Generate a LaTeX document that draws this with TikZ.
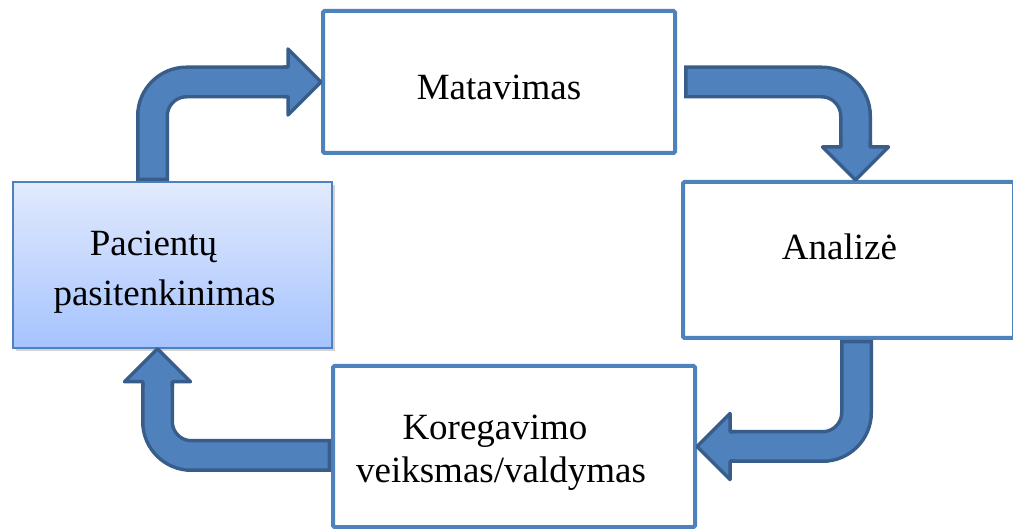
\documentclass[tikz,border=0pt]{standalone}
\usepackage{fontspec}
\setmainfont{Liberation Serif}
\usetikzlibrary{positioning, shadows}

\definecolor{boxblue}{HTML}{4F81BD}
\definecolor{arrowblue}{HTML}{4F81BD}
\definecolor{arrowedge}{HTML}{385D8A}
\definecolor{pactop}{HTML}{E2EAFD}
\definecolor{pacbottom}{HTML}{A5C3FE}

\newcommand{\bendshaft}[1]{%
	\draw[shaft out] #1;
	\draw[shaft in] #1;}
\newcommand{\bendhead}[2]{%
	\begin{scope}[shift={(#1)}, rotate=#2]
		\fill[arrowblue] (0,0) -- (-33,33) -- (-33,-33) -- cycle;
		\draw[arrowedge, line width=3.5pt, line join=round] (-38,14.75) -- (-33,14.75) -- (-33,33) -- (0,0) -- (-33,-33) -- (-33,-14.75) -- (-38,-14.75);
	\end{scope}}

\begin{document}
\begin{tikzpicture}[x=1pt, y=-1pt]
				\tikzset {box/.style={draw=boxblue, line width=4pt, fill=white, rounded corners=1.5pt, align=center, font={\fontsize{37}{50}\selectfont}},
					shaft out/.style={draw=arrowedge, line width=33pt, rounded corners=34pt},
					shaft in/.style={draw=arrowblue, line width=26pt, rounded corners=34pt, shorten <=3.5pt, shorten >=-3pt} }
					\useasboundingbox (0,0) rectangle (1013,529);
					\node[box, minimum width=352pt, minimum height=142pt, text height=36pt, text depth=0pt] (0) at (499,82) {Matavimas};
					\node[box, minimum width=331pt, minimum height=156pt, text height=14pt, text depth=14pt] (1) at (848.5,260) {Analizė\hspace*{18pt}};
					\node[box, minimum width=362pt, minimum height=161pt, text height=79pt, font={\fontsize{37}{43}\selectfont}] (2) at (514,446.5) {Koregavimo\hspace*{38pt}\\veiksmas/valdymas\hspace*{26pt}};
					\node[box, line width=1.5pt, rounded corners=0pt, top color=pactop, bottom color=pacbottom, drop shadow={shadow xshift=3pt, shadow yshift=-3pt, opacity=.35}, minimum width=319pt, minimum height=166pt, text height=88pt] (3) at (172.5,265) {Pacientų\hspace*{38pt}\\pasitenkinimas\hspace*{16pt}};
					
					\bendshaft{([xshift=-20pt]3.north) |- ([xshift=-33pt]0.west)}
					\bendhead{0.west}{0}
					\bendshaft{([xshift=7pt]0.east) -| ([shift={(7pt,33pt)}]1.north)}
					\bendhead{[xshift=7pt]1.north}{-90}
					\bendshaft{([xshift=8pt]1.south) |- ([xshift=33pt]2.east)}
					\bendhead{2.east}{180}
					\bendshaft{([yshift=-9pt]2.west) -| ([shift={(-15pt,-33pt)}]3.south)}
					\bendhead{[xshift=-15pt]3.south}{90}
			\end{tikzpicture}
\end{document}
